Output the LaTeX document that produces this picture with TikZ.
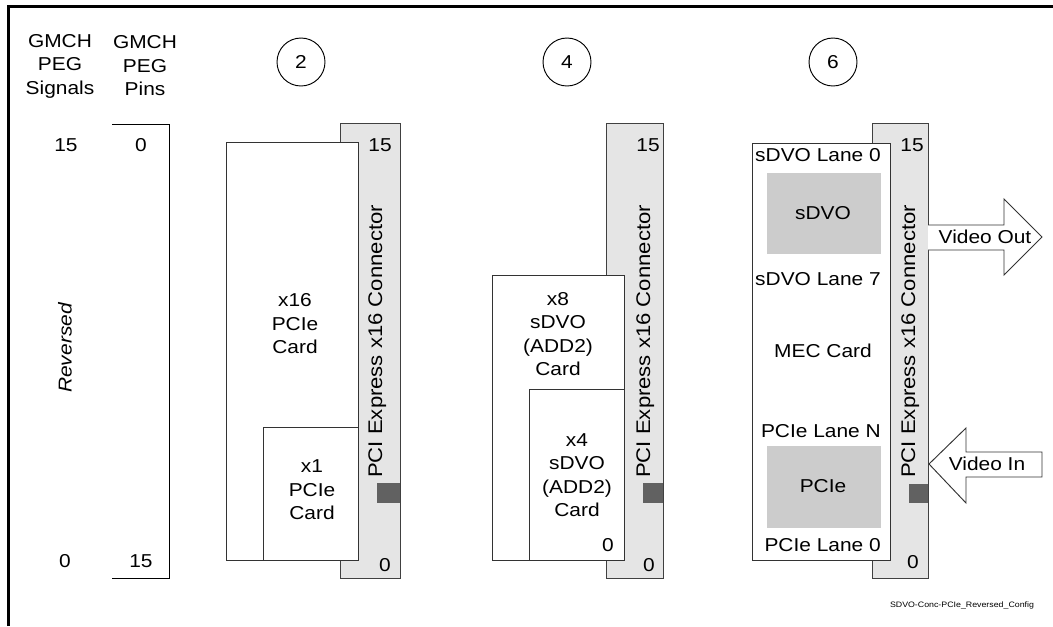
\documentclass[tikz,border=0pt]{standalone}
\usepackage{fontspec}
\setmainfont{Liberation Sans}[FakeStretch=1.12]
\begin{document}
\begin{tikzpicture}[x=0.75pt,y=-0.75pt,
  lbl/.style={font=\fontsize{14}{17.6}\selectfont, align=center, inner sep=0pt},
  conn/.style={draw=black!75, fill=black!10, line width=0.7pt},
  card/.style={draw=black!80, fill=white, line width=0.7pt},
  pinsq/.style={fill=black!62},
  gbox/.style={fill=black!20},
  numc/.style={draw, circle, line width=0.7pt, minimum size=36pt, inner sep=0pt, font=\fontsize{14}{17.6}\selectfont},
  bigarrow/.style={draw=black!80, fill=white, line width=0.7pt, line join=miter},
  frame/.style={line width=1.6pt}]
\useasboundingbox (0,0) rectangle (1053,626);
% frame
\draw[frame] (8.5,626) -- (8.5,6.5) -- (1053,6.5);
% column headings
\node[lbl] (hsig) at (60,66) {GMCH\\PEG\\Signals};
\node[lbl] (hpin) at (145,66) {GMCH\\PEG\\Pins};
\node[lbl] (s15) at (66,145) {15};
\node[lbl] (p0) at (141,145) {0};
\node[lbl] (s0) at (65,561) {0};
\node[lbl] (p15) at (141,561) {15};
\draw[line width=0.7pt] (112,124) -- (169,124) -- (169,578) -- (112,578);
\node[lbl, font=\fontsize{14}{17.6}\selectfont\itshape, rotate=90] (rev) at (65,348) {Reversed};
% circles
\node[numc] (c2) at (301,62) {2};
\node[numc] (c4) at (567,62) {4};
\node[numc] (c6) at (833,62) {6};
% ---- panel 2
\draw[conn] (340,123) rectangle (400,578);
\fill[pinsq] (377,483) rectangle (400,503);
\node[lbl, rotate=90, anchor=base west, font=\fontsize{14.8}{17.6}\selectfont] (con2) at (382,478) {PCI Express x16 Connector};
\node[lbl] (t15a) at (380,145) {15};
\node[lbl] (t0a) at (385,565) {0};
\draw[card] (226,142) rectangle (358,560);
\draw[card] (263,427) rectangle (358,560);
\node[lbl] (x16) at (295,324) {x16\\PCIe\\Card};
\node[lbl] (x1) at (312,490) {x1\\PCIe\\Card};
% ---- panel 4
\draw[conn] (606,123) rectangle (663,578);
\fill[pinsq] (643,483) rectangle (663,503);
\node[lbl, rotate=90, anchor=base west, font=\fontsize{14.8}{17.6}\selectfont] (con4) at (650,478) {PCI Express x16 Connector};
\node[lbl] (t15b) at (648,145) {15};
\node[lbl] (t0b) at (649,565) {0};
\draw[card] (492,275) rectangle (624,560);
\draw[card] (529,389) rectangle (624,560);
\node[lbl] (x8) at (558,334) {x8\\sDVO\\(ADD2)\\Card};
\node[lbl] (x4) at (577,475) {x4\\sDVO\\(ADD2)\\Card};
\node[lbl] (x40) at (608,545) {0};
% ---- panel 6
\draw[conn] (872,123) rectangle (928,578);
\fill[pinsq] (909,484) rectangle (928,503);
\node[lbl, rotate=90, anchor=base west, font=\fontsize{14.8}{17.6}\selectfont] (con6) at (915,478) {PCI Express x16 Connector};
\node[lbl] (t15c) at (912,145) {15};
\node[lbl] (t0c) at (913,562) {0};
\draw[card] (752,143) rectangle (890,560);
\fill[gbox] (767,173) rectangle (881,254);
\fill[gbox] (767,446) rectangle (881,528);
\node[lbl, anchor=east] (l0) at (881,155) {sDVO Lane 0};
\node[lbl] (sdvo) at (823,213) {sDVO};
\node[lbl, anchor=east] (l7) at (881,279) {sDVO Lane 7};
\node[lbl] (mec) at (823,351) {MEC Card};
\node[lbl, anchor=east] (ln) at (881,431) {PCIe Lane N};
\node[lbl] (pcie) at (823,486) {PCIe};
\node[lbl, anchor=east] (lp0) at (881,545) {PCIe Lane 0};
% arrows
\draw[bigarrow] (928,225) -- (1004,225) -- (1004,199) -- (1042,237) -- (1004,275) -- (1004,250) -- (928,250);
\node[lbl] (vout) at (985,237) {Video Out};
\draw[bigarrow] (929,464) -- (966,428) -- (966,452) -- (1042,452) -- (1042,477) -- (966,477) -- (966,503) -- cycle;
\node[lbl] (vin) at (987,464) {Video In};
% footer
\node[lbl, font=\fontsize{5.9}{7}\selectfont] (foot) at (962,605) {SDVO-Conc-PCIe\_Reversed\_Config};
\end{tikzpicture}
\end{document}
